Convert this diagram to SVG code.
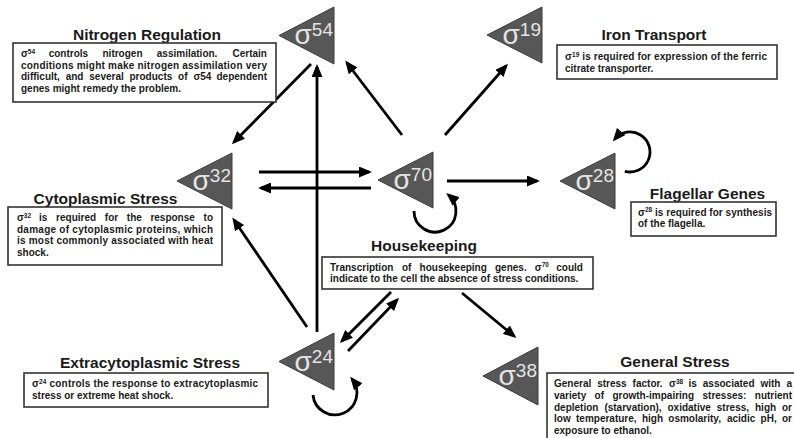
<svg xmlns="http://www.w3.org/2000/svg" width="794" height="438" viewBox="0 0 794 438">
<style>
.t{font-family:"Liberation Sans",Arial,sans-serif;font-weight:bold;font-size:15.5px;fill:#1a1a1a;text-anchor:middle}
.b{font-family:"Liberation Sans",Arial,sans-serif;font-weight:bold;font-size:10px;fill:#1a1a1a}
.sup{font-size:6.5px}
.box{fill:#fff;stroke:#333;stroke-width:1.6}
.tri{fill:#575757;stroke:#3c3c3c;stroke-width:1}
.lab{font-family:"Liberation Sans",Arial,sans-serif;fill:#e4e4e4;font-size:28px;text-anchor:end}
.n{font-size:19px}
.c{stroke:#000;stroke-width:2.8;fill:none;marker-end:url(#ah)}
</style>
<defs>
<marker id="ah" markerUnits="userSpaceOnUse" markerWidth="13" markerHeight="11" refX="10" refY="5.5" orient="auto">
<path d="M0,0 L13,5.5 L0,11 z" fill="#000"/>
</marker>
</defs>
<rect width="794" height="438" fill="#fff"/>

<g id="connectors">
<line class="c" x1="311" y1="64" x2="234" y2="142"/>
<line class="c" x1="317" y1="332" x2="317" y2="67"/>
<line class="c" x1="402" y1="135" x2="347" y2="63"/>
<line class="c" x1="445" y1="135" x2="506" y2="66"/>
<line class="c" x1="259" y1="172" x2="369" y2="172"/>
<line class="c" x1="371" y1="188" x2="261" y2="188"/>
<line class="c" x1="447" y1="181" x2="537" y2="181"/>
<path class="c" d="M414,211 A21,21 0 1 0 448.5,195"/>
<path class="c" d="M624.8,171.3 A20,20 0 1 0 614.7,139.1"/>
<path class="c" d="M313,395 A22,22 0 1 0 352,379"/>
<line class="c" x1="307" y1="327" x2="234" y2="220"/>
<line class="c" x1="391" y1="292" x2="342" y2="341"/>
<line class="c" x1="348" y1="351" x2="397" y2="300"/>
<line class="c" x1="462" y1="293" x2="514" y2="336"/>
</g>

<g id="sigma54">
<polygon class="tri" points="279,35.5 334,7 334,64"/>
<text class="lab" x="333" y="44">σ<tspan class="n" dy="-8">54</tspan></text>
<text class="t" x="147" y="40">Nitrogen Regulation</text>
<rect class="box" x="13" y="43" width="263" height="59"/>
<text class="b"><tspan x="21" y="57">σ</tspan><tspan class="sup" dy="-3.5">54</tspan><tspan x="48.7" y="57">controls</tspan><tspan x="102.5" y="57">nitrogen</tspan><tspan x="156.8" y="57">assimilation.</tspan><tspan x="232.5" y="57">Certain</tspan></text>
<text class="b" x="21" y="68.5" textLength="246" lengthAdjust="spacing">conditions might make nitrogen assimilation very</text>
<text class="b"><tspan x="21" y="80">difficult,</tspan><tspan x="65.7" y="80">and</tspan><tspan x="89.3" y="80">several</tspan><tspan x="129.5" y="80">products</tspan><tspan x="178.1" y="80">of</tspan><tspan x="193.4" y="80">σ54</tspan><tspan x="216.5" y="80">dependent</tspan></text>
<text class="b" x="21" y="91.5">genes might remedy the problem.</text>
</g>

<g id="sigma19">
<polygon class="tri" points="487,35 542,7 542,63"/>
<text class="lab" x="541" y="43.5">σ<tspan class="n" dy="-8">19</tspan></text>
<text class="t" x="654" y="40">Iron Transport</text>
<rect class="box" x="557" y="45" width="220" height="34"/>
<text class="b" x="565" y="60" textLength="202" lengthAdjust="spacing">σ<tspan class="sup" dy="-3.5">19</tspan><tspan dy="3.5"> is required for expression of the ferric</tspan></text>
<text class="b" x="565" y="71.5">citrate transporter.</text>
</g>

<g id="sigma32">
<polygon class="tri" points="177,181 232,153 232,209"/>
<text class="lab" x="231" y="190">σ<tspan class="n" dy="-8">32</tspan></text>
<text class="t" x="105.5" y="204">Cytoplasmic Stress</text>
<rect class="box" x="8" y="207" width="214" height="58"/>
<text class="b"><tspan x="17" y="221">σ</tspan><tspan class="sup" dy="-3.5">32</tspan><tspan x="39.1" y="221">is</tspan><tspan x="56.1" y="221">required</tspan><tspan x="104.8" y="221">for</tspan><tspan x="126.8" y="221">the</tspan><tspan x="150.4" y="221">response</tspan><tspan x="203.6" y="221">to</tspan></text>
<text class="b" x="17" y="232.5" textLength="196" lengthAdjust="spacing">damage of cytoplasmic proteins, which</text>
<text class="b" x="17" y="244" textLength="196" lengthAdjust="spacing">is most commonly associated with heat</text>
<text class="b" x="17" y="255.5">shock.</text>
</g>

<g id="sigma70">
<polygon class="tri" points="378,180 433,152 433,208"/>
<text class="lab" x="432" y="189">σ<tspan class="n" dy="-8">70</tspan></text>
<text class="t" x="424" y="251">Housekeeping</text>
<rect class="box" x="322" y="257" width="271" height="32"/>
<text class="b"><tspan x="330" y="270.5">Transcription</tspan><tspan x="402" y="270.5">of</tspan><tspan x="419.6" y="270.5">housekeeping</tspan><tspan x="495" y="270.5">genes.</tspan><tspan x="534.8" y="270.5">σ</tspan><tspan class="sup" dy="-3.5">70</tspan><tspan x="556.3" y="270.5">could</tspan></text>
<text class="b" x="330" y="282">indicate to the cell the absence of stress conditions.</text>
</g>

<g id="sigma28">
<polygon class="tri" points="560,181 615,153 615,209"/>
<text class="lab" x="614" y="190">σ<tspan class="n" dy="-8">28</tspan></text>
<text class="t" x="707.5" y="199">Flagellar Genes</text>
<rect class="box" x="631" y="202" width="145" height="34"/>
<text class="b" x="638" y="215.5" textLength="134" lengthAdjust="spacing">σ<tspan class="sup" dy="-3.5">28</tspan><tspan dy="3.5"> is required for synthesis</tspan></text>
<text class="b" x="638" y="227">of the flagella.</text>
</g>

<g id="sigma24">
<polygon class="tri" points="279,361.5 334,333 334,390"/>
<text class="lab" x="333" y="370.5">σ<tspan class="n" dy="-8">24</tspan></text>
<text class="t" x="150" y="368">Extracytoplasmic Stress</text>
<rect class="box" x="24" y="373" width="244" height="34"/>
<text class="b" x="32" y="387" textLength="226" lengthAdjust="spacing">σ<tspan class="sup" dy="-3.5">24</tspan><tspan dy="3.5"> controls the response to extracytoplasmic</tspan></text>
<text class="b" x="32" y="398.5">stress or extreme heat shock.</text>
</g>

<g id="sigma38">
<polygon class="tri" points="483,376 538,347 538,405"/>
<text class="lab" x="537" y="385">σ<tspan class="n" dy="-8">38</tspan></text>
<text class="t" x="675" y="367">General Stress</text>
<rect class="box" x="547" y="373" width="270" height="80"/>
<text class="b"><tspan x="554" y="387">General</tspan><tspan x="597.2" y="387">stress</tspan><tspan x="632.6" y="387">factor.</tspan><tspan x="669.1" y="387">σ</tspan><tspan class="sup" dy="-3.5">38</tspan><tspan x="688.5" y="387">is</tspan><tspan x="702.8" y="387">associated</tspan><tspan x="760.4" y="387">with</tspan><tspan x="786.4" y="387">a</tspan></text>
<text class="b"><tspan x="554" y="398.75">variety</tspan><tspan x="594.6" y="398.75">of</tspan><tspan x="612.4" y="398.75">growth-impairing</tspan><tspan x="702.5" y="398.75">stresses:</tspan><tspan x="754.8" y="398.75">nutrient</tspan></text>
<text class="b"><tspan x="554" y="410.5">depletion</tspan><tspan x="604.4" y="410.5">(starvation),</tspan><tspan x="667.5" y="410.5">oxidative</tspan><tspan x="716.8" y="410.5">stress,</tspan><tspan x="755" y="410.5">high</tspan><tspan x="782" y="410.5">or</tspan></text>
<text class="b"><tspan x="554" y="422.25">low</tspan><tspan x="576" y="422.25">temperature,</tspan><tspan x="641.9" y="422.25">high</tspan><tspan x="668.3" y="422.25">osmolarity,</tspan><tspan x="726.9" y="422.25">acidic</tspan><tspan x="760.6" y="422.25">pH,</tspan><tspan x="782" y="422.25">or</tspan></text>
<text class="b" x="554" y="434">exposure to ethanol.</text>
</g>
</svg>
